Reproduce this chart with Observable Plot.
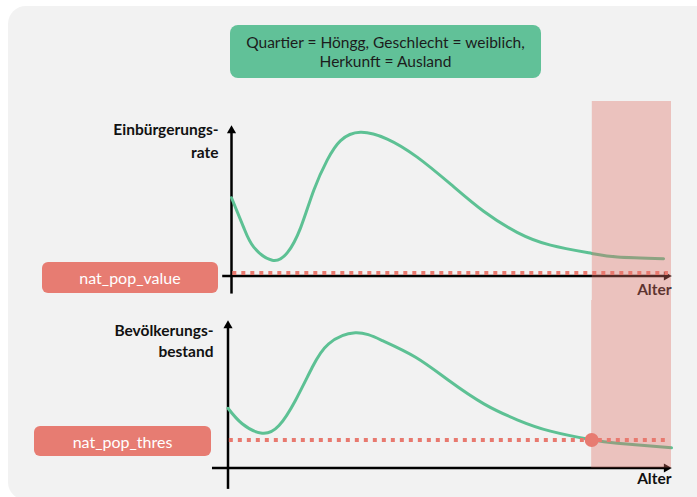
<!DOCTYPE html>
<html><head><meta charset="utf-8">
<script src="https://cdn.jsdelivr.net/npm/d3@7"></script>
<script src="https://cdn.jsdelivr.net/npm/@observablehq/plot@0.6"></script>
<style>
body{margin:0;background:#fff;font-family:Lato,"Open Sans",sans-serif}
#stage{position:relative;width:697px;height:497px;overflow:hidden;background:#fff}
.bg{position:absolute;left:8px;top:6px;width:710px;height:494px;border-radius:18px;background:#f2f2f2}
.title{position:absolute;left:230px;top:25px;width:311px;height:53px;border-radius:8px;background:#61c198;color:#1c1c1c;font-size:15.5px;line-height:19px;display:flex;align-items:center;justify-content:center;text-align:center}
.tag{position:absolute;border-radius:6px;background:#e77c72;color:#fff;font-size:16px;display:flex;align-items:center;justify-content:center}
.panel{position:absolute;left:0}
</style></head>
<body>
<div id="stage">
  <div class="bg"></div>
  <div class="title" id="title"></div>
  <div class="panel" id="p1" style="top:0"></div>
  <div class="panel" id="p2" style="top:300px"></div>
  <div class="tag" id="tag1" style="left:42px;top:262px;width:176px;height:31px"></div>
  <div class="tag" id="tag2" style="left:34px;top:426px;width:177px;height:30px"></div>
</div>
<script>
// ---- data ----
const titleLines = ["Quartier = Höngg, Geschlecht = weiblich,", "Herkunft = Ausland"];
const tagLabels = ["nat_pop_value", "nat_pop_thres"];
const yLabel1 = "Einbürgerungs-\nrate";
const yLabel2 = "Bevölkerungs-\nbestand";
const xLabel = "Alter";

const ages1 = [0, 2.8, 5.1, 9.25, 12.7, 15.7, 18.7, 21.75, 24.8, 29.3, 35.4, 42.2, 49.8, 57.3, 64.9, 72.5, 81.9, 87.7, 98.2];
const rate  = [52, 32, 19, 10.5, 15.5, 32, 57, 77, 90, 95.5, 91, 79, 61, 43, 29, 20.5, 15, 12.7, 11.5];

const ages2   = [0, 3.2, 7.7, 11.5, 15.2, 19, 22.7, 28.7, 34.8, 42.3, 49.8, 57.7, 65.2, 72.7, 82, 87.8, 100];
const bestand = [40.5, 30, 23.6, 28.8, 45.8, 68.3, 84.2, 91.7, 86.4, 75.1, 59.3, 43.5, 32.7, 25, 19.1, 16.8, 13.7];

const natPopValue = 2;
const natPopThres = 19;
const thresholdAge = 82;
const ageMax = 100;

// ---- html texts ----
document.getElementById("title").innerHTML = titleLines.join("<br>");
document.getElementById("tag1").textContent = tagLabels[0];
document.getElementById("tag2").textContent = tagLabels[1];

const green = "#5dc194", salmon = "#e8796f", shade = "#de6e64";
const curve1 = ages1.map((a, i) => ({age: a, v: rate[i]}));
const curve2 = ages2.map((a, i) => ({age: a, v: bestand[i]}));

function panel({curve, h, mTop, mBottom, xRange, yRange, xAxisFrom, yAxisFrom, level, point, yLabel, yLabelDx, yLabelDy, yLabelLH, xLabelDy}) {
  return Plot.plot({
    width: 697, height: h,
    marginTop: mTop, marginBottom: mBottom, marginLeft: 0, marginRight: 0,
    x: {domain: [0, ageMax], range: xRange, axis: null},
    y: {domain: [0, 100], range: yRange, axis: null},
    style: {background: "transparent", overflow: "visible"},
    marks: [
      // axes
      Plot.ruleY([0], {x1: xAxisFrom, x2: 99.2, stroke: "#000", strokeWidth: 2.5}),
      Plot.ruleX([0], {y1: yAxisFrom, y2: 97, stroke: "#000", strokeWidth: 2.5}),
      Plot.dot([{x: 0, y: 100}], {x: "x", y: "y", symbol: "triangle", r: 3.4, fill: "#000", stroke: null, dy: 5}),
      Plot.dot([{x: ageMax, y: 0}], {x: "x", y: "y", symbol: "triangle", r: 3.4, fill: "#000", stroke: null, rotate: 90, dx: -5}),
      Plot.text([xLabel], {x: ageMax, y: 0, text: d => d, textAnchor: "end", dy: xLabelDy, fontSize: 15.5, fontWeight: "bold", fontFamily: "Lato", fill: "#111"}),
      Plot.text([yLabel], {x: 0, y: 100, text: d => d, textAnchor: "end", dx: yLabelDx, dy: yLabelDy, lineHeight: yLabelLH, fontSize: 15.5, fontWeight: "bold", fontFamily: "Lato", fill: "#111"}),
      // curve
      Plot.line(curve, {x: "age", y: "v", curve: "natural", stroke: green, strokeWidth: 3}),
      // shaded region (spans the full panel height)
      Plot.rect([{a: thresholdAge, b: ageMax}], {x1: "a", x2: "b", fill: shade, fillOpacity: 0.37}),
      // threshold dotted line
      Plot.ruleY([level], {x1: 0.3, x2: 99.3, stroke: salmon, strokeWidth: 4, strokeDasharray: "4,5"}),
      ...(point ? [Plot.dot([{age: thresholdAge, v: level}], {x: "age", y: "v", r: 7, fill: "#e77b71", stroke: null})] : [])
    ]
  });
}

document.getElementById("p1").append(panel({
  curve: curve1, h: 300, mTop: 101, mBottom: 0,
  xRange: [231, 671], yRange: [275.5, 125],
  xAxisFrom: -2, yAxisFrom: -12, level: natPopValue, point: false,
  yLabel: yLabel1, yLabelDx: -13, yLabelDy: 14, yLabelLH: 1.45, xLabelDy: 14
}));
document.getElementById("p2").append(panel({
  curve: curve2, h: 197, mTop: 0, mBottom: 29.5,
  xRange: [227.5, 671], yRange: [167.5, 20],
  xAxisFrom: -3.5, yAxisFrom: -14.5, level: natPopThres, point: true,
  yLabel: yLabel2, yLabelDx: -14.5, yLabelDy: 19, yLabelLH: 1.35, xLabelDy: 11
}));
</script>
</body></html>
